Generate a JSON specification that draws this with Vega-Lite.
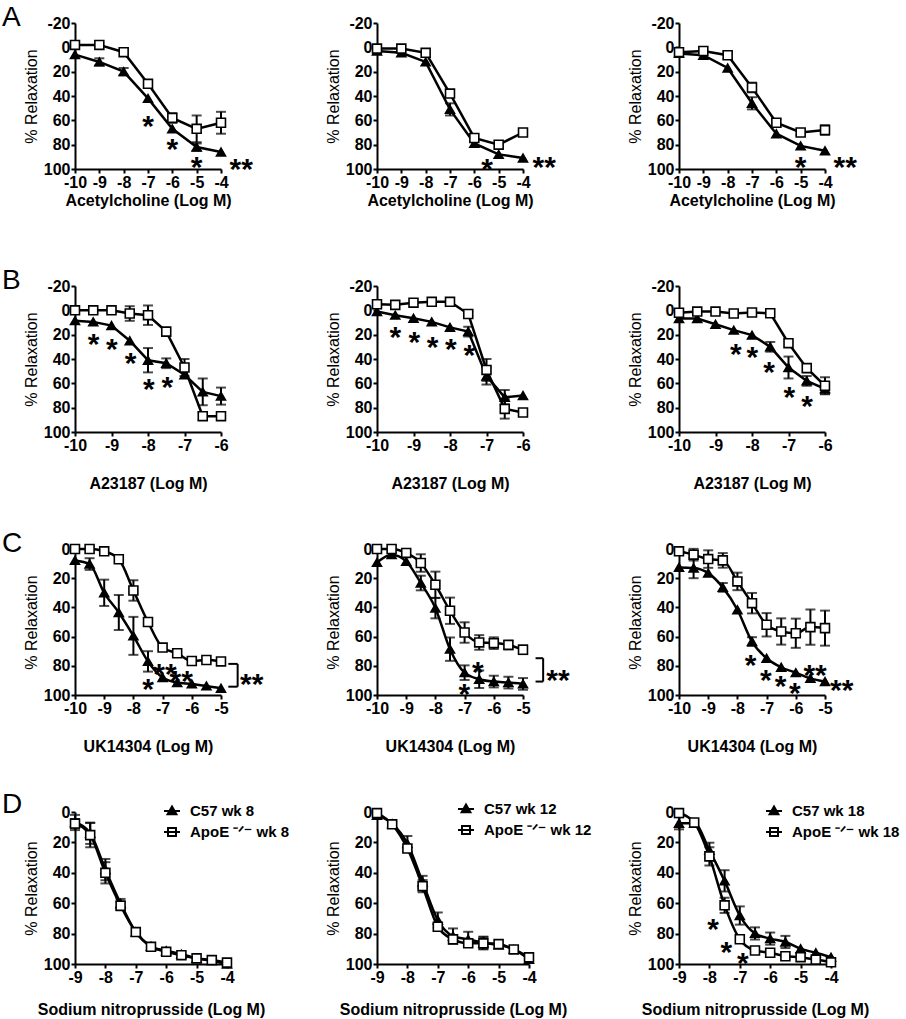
{
"$schema":"https://vega.github.io/schema/vega-lite/v6.json",
"autosize":{"type":"pad"},
"padding":{"left":2,"top":4,"right":0,"bottom":4},
"background":"white",
"datasets":{
"d":[
{"p":"A1","g":"C","x":-10,"y":6,"e":0},{"p":"A1","g":"C","x":-9,"y":12,"e":3},{"p":"A1","g":"C","x":-8,"y":20,"e":3},{"p":"A1","g":"C","x":-7,"y":42,"e":0},{"p":"A1","g":"C","x":-6,"y":67,"e":0},{"p":"A1","g":"C","x":-5,"y":82,"e":3},{"p":"A1","g":"C","x":-4,"y":86,"e":0},
{"p":"A1","g":"A","x":-10,"y":-2,"e":0},{"p":"A1","g":"A","x":-9,"y":-2,"e":0},{"p":"A1","g":"A","x":-8,"y":4,"e":0},{"p":"A1","g":"A","x":-7,"y":30,"e":3},{"p":"A1","g":"A","x":-6,"y":58,"e":4},{"p":"A1","g":"A","x":-5,"y":67,"e":11},{"p":"A1","g":"A","x":-4,"y":62,"e":9},
{"p":"A2","g":"C","x":-10,"y":3,"e":0},{"p":"A2","g":"C","x":-9,"y":4.5,"e":0},{"p":"A2","g":"C","x":-8,"y":12,"e":0},{"p":"A2","g":"C","x":-7,"y":51,"e":5},{"p":"A2","g":"C","x":-6,"y":79,"e":0},{"p":"A2","g":"C","x":-5,"y":88,"e":0},{"p":"A2","g":"C","x":-4,"y":91,"e":0},
{"p":"A2","g":"A","x":-10,"y":1,"e":0},{"p":"A2","g":"A","x":-9,"y":1,"e":0},{"p":"A2","g":"A","x":-8,"y":4.5,"e":0},{"p":"A2","g":"A","x":-7,"y":38,"e":0},{"p":"A2","g":"A","x":-6,"y":74.5,"e":0},{"p":"A2","g":"A","x":-5,"y":80,"e":0},{"p":"A2","g":"A","x":-4,"y":70,"e":0},
{"p":"A3","g":"C","x":-10,"y":5,"e":0},{"p":"A3","g":"C","x":-9,"y":6.5,"e":0},{"p":"A3","g":"C","x":-8,"y":17,"e":0},{"p":"A3","g":"C","x":-7,"y":46,"e":5},{"p":"A3","g":"C","x":-6,"y":71,"e":0},{"p":"A3","g":"C","x":-5,"y":81,"e":0},{"p":"A3","g":"C","x":-4,"y":85,"e":0},
{"p":"A3","g":"A","x":-10,"y":4,"e":0},{"p":"A3","g":"A","x":-9,"y":3,"e":0},{"p":"A3","g":"A","x":-8,"y":6.5,"e":3},{"p":"A3","g":"A","x":-7,"y":33,"e":4},{"p":"A3","g":"A","x":-6,"y":62,"e":3},{"p":"A3","g":"A","x":-5,"y":70,"e":2},{"p":"A3","g":"A","x":-4,"y":68,"e":4},
{"p":"B1","g":"C","x":-10,"y":8.5,"e":0},{"p":"B1","g":"C","x":-9.5,"y":9.5,"e":0},{"p":"B1","g":"C","x":-9,"y":12.5,"e":0},{"p":"B1","g":"C","x":-8.5,"y":25,"e":0},{"p":"B1","g":"C","x":-8,"y":41,"e":10},{"p":"B1","g":"C","x":-7.5,"y":43.5,"e":4},{"p":"B1","g":"C","x":-7,"y":53,"e":0},{"p":"B1","g":"C","x":-6.5,"y":67,"e":11},{"p":"B1","g":"C","x":-6,"y":70.5,"e":7},
{"p":"B1","g":"A","x":-10,"y":0,"e":0},{"p":"B1","g":"A","x":-9.5,"y":0,"e":0},{"p":"B1","g":"A","x":-9,"y":0,"e":2},{"p":"B1","g":"A","x":-8.5,"y":2.6,"e":6},{"p":"B1","g":"A","x":-8,"y":4,"e":8},{"p":"B1","g":"A","x":-7.5,"y":17.5,"e":0},{"p":"B1","g":"A","x":-7,"y":47,"e":7},{"p":"B1","g":"A","x":-6.5,"y":87,"e":3},{"p":"B1","g":"A","x":-6,"y":87,"e":0},
{"p":"B2","g":"C","x":-10,"y":1,"e":0},{"p":"B2","g":"C","x":-9.5,"y":4,"e":0},{"p":"B2","g":"C","x":-9,"y":6.5,"e":0},{"p":"B2","g":"C","x":-8.5,"y":9.5,"e":0},{"p":"B2","g":"C","x":-8,"y":14,"e":0},{"p":"B2","g":"C","x":-7.5,"y":17.5,"e":4},{"p":"B2","g":"C","x":-7,"y":54,"e":7},{"p":"B2","g":"C","x":-6.5,"y":71.5,"e":6},{"p":"B2","g":"C","x":-6,"y":70,"e":0},
{"p":"B2","g":"A","x":-10,"y":-5,"e":2},{"p":"B2","g":"A","x":-9.5,"y":-4.5,"e":0},{"p":"B2","g":"A","x":-9,"y":-6.3,"e":0},{"p":"B2","g":"A","x":-8.5,"y":-7,"e":0},{"p":"B2","g":"A","x":-8,"y":-7,"e":0},{"p":"B2","g":"A","x":-7.5,"y":3,"e":2},{"p":"B2","g":"A","x":-7,"y":49,"e":9},{"p":"B2","g":"A","x":-6.5,"y":81,"e":8},{"p":"B2","g":"A","x":-6,"y":84,"e":2},
{"p":"B3","g":"C","x":-10,"y":6.7,"e":0},{"p":"B3","g":"C","x":-9.5,"y":6.7,"e":0},{"p":"B3","g":"C","x":-9,"y":11.4,"e":0},{"p":"B3","g":"C","x":-8.5,"y":16.3,"e":0},{"p":"B3","g":"C","x":-8,"y":20.4,"e":0},{"p":"B3","g":"C","x":-7.5,"y":30,"e":4},{"p":"B3","g":"C","x":-7,"y":47,"e":9},{"p":"B3","g":"C","x":-6.5,"y":58,"e":4},{"p":"B3","g":"C","x":-6,"y":64.5,"e":4},
{"p":"B3","g":"A","x":-10,"y":2,"e":0},{"p":"B3","g":"A","x":-9.5,"y":1,"e":0},{"p":"B3","g":"A","x":-9,"y":1,"e":0},{"p":"B3","g":"A","x":-8.5,"y":2.6,"e":0},{"p":"B3","g":"A","x":-8,"y":1.8,"e":0},{"p":"B3","g":"A","x":-7.5,"y":2.4,"e":0},{"p":"B3","g":"A","x":-7,"y":27,"e":0},{"p":"B3","g":"A","x":-6.5,"y":47.5,"e":0},{"p":"B3","g":"A","x":-6,"y":62,"e":7},
{"p":"C1","g":"C","x":-10,"y":7.8,"e":0},{"p":"C1","g":"C","x":-9.5,"y":10.3,"e":4},{"p":"C1","g":"C","x":-9,"y":30,"e":9},{"p":"C1","g":"C","x":-8.5,"y":43.5,"e":12},{"p":"C1","g":"C","x":-8,"y":59.5,"e":13},{"p":"C1","g":"C","x":-7.5,"y":77,"e":7},{"p":"C1","g":"C","x":-7,"y":88,"e":0},{"p":"C1","g":"C","x":-6.5,"y":91.5,"e":0},{"p":"C1","g":"C","x":-6,"y":92.4,"e":0},{"p":"C1","g":"C","x":-5.5,"y":93.8,"e":0},{"p":"C1","g":"C","x":-5,"y":95.4,"e":0},
{"p":"C1","g":"A","x":-10,"y":0,"e":0},{"p":"C1","g":"A","x":-9.5,"y":0,"e":0},{"p":"C1","g":"A","x":-9,"y":1.6,"e":0},{"p":"C1","g":"A","x":-8.5,"y":7,"e":0},{"p":"C1","g":"A","x":-8,"y":28.4,"e":7},{"p":"C1","g":"A","x":-7.5,"y":50,"e":0},{"p":"C1","g":"A","x":-7,"y":67.5,"e":0},{"p":"C1","g":"A","x":-6.5,"y":71.4,"e":0},{"p":"C1","g":"A","x":-6,"y":76.7,"e":0},{"p":"C1","g":"A","x":-5.5,"y":76,"e":0},{"p":"C1","g":"A","x":-5,"y":77,"e":0},
{"p":"C2","g":"C","x":-10,"y":9.2,"e":0},{"p":"C2","g":"C","x":-9.5,"y":3.9,"e":0},{"p":"C2","g":"C","x":-9,"y":8.5,"e":0},{"p":"C2","g":"C","x":-8.5,"y":23.3,"e":5},{"p":"C2","g":"C","x":-8,"y":40.5,"e":7},{"p":"C2","g":"C","x":-7.5,"y":68.6,"e":8},{"p":"C2","g":"C","x":-7,"y":84.7,"e":5},{"p":"C2","g":"C","x":-6.5,"y":89.2,"e":6},{"p":"C2","g":"C","x":-6,"y":90.8,"e":4},{"p":"C2","g":"C","x":-5.5,"y":91.5,"e":4},{"p":"C2","g":"C","x":-5,"y":92.4,"e":4},
{"p":"C2","g":"A","x":-10,"y":0,"e":0},{"p":"C2","g":"A","x":-9.5,"y":0,"e":0},{"p":"C2","g":"A","x":-9,"y":2.7,"e":0},{"p":"C2","g":"A","x":-8.5,"y":9.6,"e":6},{"p":"C2","g":"A","x":-8,"y":24.5,"e":9},{"p":"C2","g":"A","x":-7.5,"y":42.3,"e":9},{"p":"C2","g":"A","x":-7,"y":57.2,"e":7},{"p":"C2","g":"A","x":-6.5,"y":64,"e":5},{"p":"C2","g":"A","x":-6,"y":64.5,"e":4},{"p":"C2","g":"A","x":-5.5,"y":65.7,"e":3},{"p":"C2","g":"A","x":-5,"y":69,"e":3},
{"p":"C3","g":"C","x":-10,"y":12.6,"e":0},{"p":"C3","g":"C","x":-9.5,"y":13,"e":7},{"p":"C3","g":"C","x":-9,"y":16.5,"e":0},{"p":"C3","g":"C","x":-8.5,"y":26.3,"e":3},{"p":"C3","g":"C","x":-8,"y":41.6,"e":0},{"p":"C3","g":"C","x":-7.5,"y":63.4,"e":3},{"p":"C3","g":"C","x":-7,"y":74.8,"e":0},{"p":"C3","g":"C","x":-6.5,"y":81,"e":0},{"p":"C3","g":"C","x":-6,"y":84.7,"e":0},{"p":"C3","g":"C","x":-5.5,"y":88.6,"e":0},{"p":"C3","g":"C","x":-5,"y":90.8,"e":0},
{"p":"C3","g":"A","x":-10,"y":1.6,"e":0},{"p":"C3","g":"A","x":-9.5,"y":3.9,"e":4},{"p":"C3","g":"A","x":-9,"y":6.9,"e":6},{"p":"C3","g":"A","x":-8.5,"y":7.8,"e":5},{"p":"C3","g":"A","x":-8,"y":22.2,"e":6},{"p":"C3","g":"A","x":-7.5,"y":37.1,"e":7},{"p":"C3","g":"A","x":-7,"y":51.9,"e":8},{"p":"C3","g":"A","x":-6.5,"y":56.5,"e":9},{"p":"C3","g":"A","x":-6,"y":57.7,"e":10},{"p":"C3","g":"A","x":-5.5,"y":53.5,"e":12},{"p":"C3","g":"A","x":-5,"y":54.2,"e":12},
{"p":"D1","g":"C","x":-9,"y":6.9,"e":5},{"p":"D1","g":"C","x":-8.5,"y":14,"e":7},{"p":"D1","g":"C","x":-8,"y":37.9,"e":7},{"p":"D1","g":"C","x":-7.5,"y":60.2,"e":3},{"p":"D1","g":"C","x":-7,"y":79,"e":0},{"p":"D1","g":"C","x":-6.5,"y":88.3,"e":0},{"p":"D1","g":"C","x":-6,"y":91.3,"e":0},{"p":"D1","g":"C","x":-5.5,"y":93.5,"e":0},{"p":"D1","g":"C","x":-5,"y":96.3,"e":0},{"p":"D1","g":"C","x":-4.5,"y":97.8,"e":0},{"p":"D1","g":"C","x":-4,"y":100,"e":0},
{"p":"D1","g":"A","x":-9,"y":7.6,"e":3},{"p":"D1","g":"A","x":-8.5,"y":15.2,"e":8},{"p":"D1","g":"A","x":-8,"y":40,"e":7},{"p":"D1","g":"A","x":-7.5,"y":61.7,"e":3},{"p":"D1","g":"A","x":-7,"y":79,"e":0},{"p":"D1","g":"A","x":-6.5,"y":88.7,"e":0},{"p":"D1","g":"A","x":-6,"y":92,"e":0},{"p":"D1","g":"A","x":-5.5,"y":94.2,"e":0},{"p":"D1","g":"A","x":-5,"y":96.3,"e":0},{"p":"D1","g":"A","x":-4.5,"y":97.4,"e":0},{"p":"D1","g":"A","x":-4,"y":99.1,"e":0},
{"p":"D2","g":"C","x":-9,"y":2.2,"e":0},{"p":"D2","g":"C","x":-8.5,"y":7.7,"e":0},{"p":"D2","g":"C","x":-8,"y":20.8,"e":5},{"p":"D2","g":"C","x":-7.5,"y":46,"e":4},{"p":"D2","g":"C","x":-7,"y":71.1,"e":5},{"p":"D2","g":"C","x":-6.5,"y":81.6,"e":5},{"p":"D2","g":"C","x":-6,"y":83.8,"e":5},{"p":"D2","g":"C","x":-5.5,"y":86,"e":4},{"p":"D2","g":"C","x":-5,"y":87.5,"e":0},{"p":"D2","g":"C","x":-4.5,"y":90.4,"e":0},{"p":"D2","g":"C","x":-4,"y":96.9,"e":0},
{"p":"D2","g":"A","x":-9,"y":0.7,"e":0},{"p":"D2","g":"A","x":-8.5,"y":8.1,"e":0},{"p":"D2","g":"A","x":-8,"y":24,"e":0},{"p":"D2","g":"A","x":-7.5,"y":48.8,"e":4},{"p":"D2","g":"A","x":-7,"y":75.5,"e":0},{"p":"D2","g":"A","x":-6.5,"y":83.8,"e":0},{"p":"D2","g":"A","x":-6,"y":86.4,"e":0},{"p":"D2","g":"A","x":-5.5,"y":86.4,"e":4},{"p":"D2","g":"A","x":-5,"y":86.9,"e":0},{"p":"D2","g":"A","x":-4.5,"y":90.4,"e":0},{"p":"D2","g":"A","x":-4,"y":95.6,"e":0},
{"p":"D3","g":"C","x":-9,"y":7.4,"e":4},{"p":"D3","g":"C","x":-8.5,"y":7.4,"e":0},{"p":"D3","g":"C","x":-8,"y":25.2,"e":5},{"p":"D3","g":"C","x":-7.5,"y":45.3,"e":7},{"p":"D3","g":"C","x":-7,"y":68.1,"e":6},{"p":"D3","g":"C","x":-6.5,"y":79.9,"e":4},{"p":"D3","g":"C","x":-6,"y":83.3,"e":4},{"p":"D3","g":"C","x":-5.5,"y":85.5,"e":4},{"p":"D3","g":"C","x":-5,"y":90,"e":0},{"p":"D3","g":"C","x":-4.5,"y":92.6,"e":0},{"p":"D3","g":"C","x":-4,"y":95.5,"e":0},
{"p":"D3","g":"A","x":-9,"y":0.7,"e":0},{"p":"D3","g":"A","x":-8.5,"y":6.9,"e":0},{"p":"D3","g":"A","x":-8,"y":29.2,"e":6},{"p":"D3","g":"A","x":-7.5,"y":61.4,"e":5},{"p":"D3","g":"A","x":-7,"y":83.7,"e":0},{"p":"D3","g":"A","x":-6.5,"y":91.1,"e":0},{"p":"D3","g":"A","x":-6,"y":92.6,"e":0},{"p":"D3","g":"A","x":-5.5,"y":94.9,"e":0},{"p":"D3","g":"A","x":-5,"y":95.5,"e":0},{"p":"D3","g":"A","x":-4.5,"y":97.1,"e":0},{"p":"D3","g":"A","x":-4,"y":98.9,"e":0}
],
"s":[
{"p":"A1","x":-7,"y":59,"t":"*"},{"p":"A1","x":-6,"y":78,"t":"*"},{"p":"A1","x":-5,"y":93,"t":"*"},{"p":"A1","x":-3.17,"y":94.5,"t":"**"},
{"p":"A2","x":-5.48,"y":94,"t":"*"},{"p":"A2","x":-3.13,"y":93,"t":"**"},
{"p":"A3","x":-5,"y":93,"t":"*"},{"p":"A3","x":-3.17,"y":93,"t":"**"},
{"p":"B1","x":-9.49,"y":22.3,"t":"*"},{"p":"B1","x":-8.99,"y":26.4,"t":"*"},{"p":"B1","x":-8.48,"y":37.3,"t":"*"},{"p":"B1","x":-7.98,"y":59,"t":"*"},{"p":"B1","x":-7.47,"y":57,"t":"*"},
{"p":"B2","x":-9.5,"y":16.5,"t":"*"},{"p":"B2","x":-8.98,"y":20.4,"t":"*"},{"p":"B2","x":-8.48,"y":24,"t":"*"},{"p":"B2","x":-7.98,"y":26.2,"t":"*"},{"p":"B2","x":-7.47,"y":30.8,"t":"*"},
{"p":"B3","x":-8.44,"y":30.5,"t":"*"},{"p":"B3","x":-7.99,"y":32.6,"t":"*"},{"p":"B3","x":-7.53,"y":44.9,"t":"*"},{"p":"B3","x":-6.98,"y":65.4,"t":"*"},{"p":"B3","x":-6.49,"y":72.7,"t":"*"},
{"p":"C1","x":-7.5,"y":90.8,"t":"*"},{"p":"C1","x":-6.92,"y":80.5,"t":"**"},{"p":"C1","x":-6.36,"y":85.8,"t":"**"},{"p":"C1","x":-3.95,"y":87.4,"t":"**"},
{"p":"C2","x":-6.55,"y":79.4,"t":"*"},{"p":"C2","x":-7.01,"y":94.3,"t":"*"},{"p":"C2","x":-3.8,"y":84.7,"t":"**"},
{"p":"C3","x":-7.55,"y":74.8,"t":"*"},{"p":"C3","x":-7.03,"y":85.1,"t":"*"},{"p":"C3","x":-6.52,"y":89.2,"t":"*"},{"p":"C3","x":-6.03,"y":93.8,"t":"*"},{"p":"C3","x":-5.34,"y":81.7,"t":"**"},{"p":"C3","x":-4.43,"y":91.5,"t":"**"},
{"p":"D3","x":-7.88,"y":72.1,"t":"*"},{"p":"D3","x":-7.44,"y":87.3,"t":"*"},{"p":"D3","x":-6.9,"y":94.9,"t":"*"}
],
"b":[
{"p":"C1","x":-4.75,"y":78.7,"x2":-4.43,"y2":78.7},{"p":"C1","x":-4.43,"y":78.7,"x2":-4.43,"y2":94.3},{"p":"C1","x":-4.75,"y":94.3,"x2":-4.43,"y2":94.3},
{"p":"C2","x":-4.57,"y":74.8,"x2":-4.31,"y2":74.8},{"p":"C2","x":-4.31,"y":74.8,"x2":-4.31,"y2":90.8},{"p":"C2","x":-4.57,"y":90.8,"x2":-4.31,"y2":90.8}
]
},
"columns":3,
"bounds":"flush",
"spacing":{"row":117,"column":150},
"resolve":{"scale":{"shape":"independent","fill":"independent"},"legend":{"shape":"independent","fill":"independent"}},
"concat":[
{"width":146,"height":146,"title":{"text":"A"},"data":{"name":"d"},"transform":[{"filter":"datum.p=='A1'"}],
"encoding":{"x":{"field":"x","type":"quantitative","scale":{"domain":[-10,-4],"nice":false,"zero":false},"axis":{"values":[-10,-9,-8,-7,-6,-5,-4],"title":"Acetylcholine (Log M)","titlePadding":2}},
"y":{"field":"y","type":"quantitative","scale":{"domain":[-20,100],"reverse":true,"nice":false,"zero":false},"axis":{"values":[-20,0,20,40,60,80,100],"title":"% Relaxation"}}},
"layer":[
{"mark":{"type":"line","color":"black","strokeWidth":2.5},"encoding":{"detail":{"field":"g"}}},
{"transform":[{"filter":"datum.e>0"}],"mark":{"type":"errorbar","ticks":{"size":10},"color":"black","thickness":2},"encoding":{"yError":{"field":"e"}}},
{"mark":{"type":"point","filled":true,"size":80,"stroke":"black","strokeWidth":1.6,"opacity":1},"encoding":{"shape":{"field":"g","type":"nominal","scale":{"domain":["C","A"],"range":["triangle-up","square"]},"legend":null},"fill":{"field":"g","type":"nominal","scale":{"domain":["C","A"],"range":["black","white"]},"legend":null}}},
{"data":{"name":"s"},"transform":[{"filter":"datum.p=='A1'"}],"mark":{"type":"text","fontSize":30,"fontWeight":"bold","dy":8,"color":"black"},"encoding":{"text":{"field":"t"}}}
]},
{"width":146,"height":146,"data":{"name":"d"},"transform":[{"filter":"datum.p=='A2'"}],
"encoding":{"x":{"field":"x","type":"quantitative","scale":{"domain":[-10,-4],"nice":false,"zero":false},"axis":{"values":[-10,-9,-8,-7,-6,-5,-4],"title":"Acetylcholine (Log M)","titlePadding":2}},
"y":{"field":"y","type":"quantitative","scale":{"domain":[-20,100],"reverse":true,"nice":false,"zero":false},"axis":{"values":[-20,0,20,40,60,80,100],"title":"% Relaxation"}}},
"layer":[
{"mark":{"type":"line","color":"black","strokeWidth":2.5},"encoding":{"detail":{"field":"g"}}},
{"transform":[{"filter":"datum.e>0"}],"mark":{"type":"errorbar","ticks":{"size":10},"color":"black","thickness":2},"encoding":{"yError":{"field":"e"}}},
{"mark":{"type":"point","filled":true,"size":80,"stroke":"black","strokeWidth":1.6,"opacity":1},"encoding":{"shape":{"field":"g","type":"nominal","scale":{"domain":["C","A"],"range":["triangle-up","square"]},"legend":null},"fill":{"field":"g","type":"nominal","scale":{"domain":["C","A"],"range":["black","white"]},"legend":null}}},
{"data":{"name":"s"},"transform":[{"filter":"datum.p=='A2'"}],"mark":{"type":"text","fontSize":30,"fontWeight":"bold","dy":8,"color":"black"},"encoding":{"text":{"field":"t"}}}
]},
{"width":146,"height":146,"data":{"name":"d"},"transform":[{"filter":"datum.p=='A3'"}],
"encoding":{"x":{"field":"x","type":"quantitative","scale":{"domain":[-10,-4],"nice":false,"zero":false},"axis":{"values":[-10,-9,-8,-7,-6,-5,-4],"title":"Acetylcholine (Log M)","titlePadding":2}},
"y":{"field":"y","type":"quantitative","scale":{"domain":[-20,100],"reverse":true,"nice":false,"zero":false},"axis":{"values":[-20,0,20,40,60,80,100],"title":"% Relaxation"}}},
"layer":[
{"mark":{"type":"line","color":"black","strokeWidth":2.5},"encoding":{"detail":{"field":"g"}}},
{"transform":[{"filter":"datum.e>0"}],"mark":{"type":"errorbar","ticks":{"size":10},"color":"black","thickness":2},"encoding":{"yError":{"field":"e"}}},
{"mark":{"type":"point","filled":true,"size":80,"stroke":"black","strokeWidth":1.6,"opacity":1},"encoding":{"shape":{"field":"g","type":"nominal","scale":{"domain":["C","A"],"range":["triangle-up","square"]},"legend":null},"fill":{"field":"g","type":"nominal","scale":{"domain":["C","A"],"range":["black","white"]},"legend":null}}},
{"data":{"name":"s"},"transform":[{"filter":"datum.p=='A3'"}],"mark":{"type":"text","fontSize":30,"fontWeight":"bold","dy":8,"color":"black"},"encoding":{"text":{"field":"t"}}}
]},
{"width":146,"height":146,"title":{"text":"B"},"data":{"name":"d"},"transform":[{"filter":"datum.p=='B1'"}],
"encoding":{"x":{"field":"x","type":"quantitative","scale":{"domain":[-10,-6],"nice":false,"zero":false},"axis":{"values":[-10,-9,-8,-7,-6],"title":"A23187 (Log M)","titlePadding":22}},
"y":{"field":"y","type":"quantitative","scale":{"domain":[-20,100],"reverse":true,"nice":false,"zero":false},"axis":{"values":[-20,0,20,40,60,80,100],"title":"% Relaxation"}}},
"layer":[
{"mark":{"type":"line","color":"black","strokeWidth":2.5},"encoding":{"detail":{"field":"g"}}},
{"transform":[{"filter":"datum.e>0"}],"mark":{"type":"errorbar","ticks":{"size":10},"color":"black","thickness":2},"encoding":{"yError":{"field":"e"}}},
{"mark":{"type":"point","filled":true,"size":80,"stroke":"black","strokeWidth":1.6,"opacity":1},"encoding":{"shape":{"field":"g","type":"nominal","scale":{"domain":["C","A"],"range":["triangle-up","square"]},"legend":null},"fill":{"field":"g","type":"nominal","scale":{"domain":["C","A"],"range":["black","white"]},"legend":null}}},
{"data":{"name":"s"},"transform":[{"filter":"datum.p=='B1'"}],"mark":{"type":"text","fontSize":30,"fontWeight":"bold","dy":8,"color":"black"},"encoding":{"text":{"field":"t"}}}
]},
{"width":146,"height":146,"data":{"name":"d"},"transform":[{"filter":"datum.p=='B2'"}],
"encoding":{"x":{"field":"x","type":"quantitative","scale":{"domain":[-10,-6],"nice":false,"zero":false},"axis":{"values":[-10,-9,-8,-7,-6],"title":"A23187 (Log M)","titlePadding":22}},
"y":{"field":"y","type":"quantitative","scale":{"domain":[-20,100],"reverse":true,"nice":false,"zero":false},"axis":{"values":[-20,0,20,40,60,80,100],"title":"% Relaxation"}}},
"layer":[
{"mark":{"type":"line","color":"black","strokeWidth":2.5},"encoding":{"detail":{"field":"g"}}},
{"transform":[{"filter":"datum.e>0"}],"mark":{"type":"errorbar","ticks":{"size":10},"color":"black","thickness":2},"encoding":{"yError":{"field":"e"}}},
{"mark":{"type":"point","filled":true,"size":80,"stroke":"black","strokeWidth":1.6,"opacity":1},"encoding":{"shape":{"field":"g","type":"nominal","scale":{"domain":["C","A"],"range":["triangle-up","square"]},"legend":null},"fill":{"field":"g","type":"nominal","scale":{"domain":["C","A"],"range":["black","white"]},"legend":null}}},
{"data":{"name":"s"},"transform":[{"filter":"datum.p=='B2'"}],"mark":{"type":"text","fontSize":30,"fontWeight":"bold","dy":8,"color":"black"},"encoding":{"text":{"field":"t"}}}
]},
{"width":146,"height":146,"data":{"name":"d"},"transform":[{"filter":"datum.p=='B3'"}],
"encoding":{"x":{"field":"x","type":"quantitative","scale":{"domain":[-10,-6],"nice":false,"zero":false},"axis":{"values":[-10,-9,-8,-7,-6],"title":"A23187 (Log M)","titlePadding":22}},
"y":{"field":"y","type":"quantitative","scale":{"domain":[-20,100],"reverse":true,"nice":false,"zero":false},"axis":{"values":[-20,0,20,40,60,80,100],"title":"% Relaxation"}}},
"layer":[
{"mark":{"type":"line","color":"black","strokeWidth":2.5},"encoding":{"detail":{"field":"g"}}},
{"transform":[{"filter":"datum.e>0"}],"mark":{"type":"errorbar","ticks":{"size":10},"color":"black","thickness":2},"encoding":{"yError":{"field":"e"}}},
{"mark":{"type":"point","filled":true,"size":80,"stroke":"black","strokeWidth":1.6,"opacity":1},"encoding":{"shape":{"field":"g","type":"nominal","scale":{"domain":["C","A"],"range":["triangle-up","square"]},"legend":null},"fill":{"field":"g","type":"nominal","scale":{"domain":["C","A"],"range":["black","white"]},"legend":null}}},
{"data":{"name":"s"},"transform":[{"filter":"datum.p=='B3'"}],"mark":{"type":"text","fontSize":30,"fontWeight":"bold","dy":8,"color":"black"},"encoding":{"text":{"field":"t"}}}
]},
{"width":146,"height":146,"title":{"text":"C"},"data":{"name":"d"},"transform":[{"filter":"datum.p=='C1'"}],
"encoding":{"x":{"field":"x","type":"quantitative","scale":{"domain":[-10,-5],"nice":false,"zero":false},"axis":{"values":[-10,-9,-8,-7,-6,-5],"title":"UK14304 (Log M)","titlePadding":22}},
"y":{"field":"y","type":"quantitative","scale":{"domain":[0,100],"reverse":true,"nice":false,"zero":false},"axis":{"values":[0,20,40,60,80,100],"title":"% Relaxation"}}},
"layer":[
{"mark":{"type":"line","color":"black","strokeWidth":2.5,"interpolate":"monotone"},"encoding":{"detail":{"field":"g"}}},
{"transform":[{"filter":"datum.e>0"}],"mark":{"type":"errorbar","ticks":{"size":10},"color":"black","thickness":2},"encoding":{"yError":{"field":"e"}}},
{"mark":{"type":"point","filled":true,"size":80,"stroke":"black","strokeWidth":1.6,"opacity":1},"encoding":{"shape":{"field":"g","type":"nominal","scale":{"domain":["C","A"],"range":["triangle-up","square"]},"legend":null},"fill":{"field":"g","type":"nominal","scale":{"domain":["C","A"],"range":["black","white"]},"legend":null}}},
{"data":{"name":"b"},"transform":[{"filter":"datum.p=='C1'"}],"mark":{"type":"rule","color":"black","strokeWidth":2},"encoding":{"x2":{"field":"x2"},"y2":{"field":"y2"}}},
{"data":{"name":"s"},"transform":[{"filter":"datum.p=='C1'"}],"mark":{"type":"text","fontSize":30,"fontWeight":"bold","dy":8,"color":"black"},"encoding":{"text":{"field":"t"}}}
]},
{"width":146,"height":146,"data":{"name":"d"},"transform":[{"filter":"datum.p=='C2'"}],
"encoding":{"x":{"field":"x","type":"quantitative","scale":{"domain":[-10,-5],"nice":false,"zero":false},"axis":{"values":[-10,-9,-8,-7,-6,-5],"title":"UK14304 (Log M)","titlePadding":22}},
"y":{"field":"y","type":"quantitative","scale":{"domain":[0,100],"reverse":true,"nice":false,"zero":false},"axis":{"values":[0,20,40,60,80,100],"title":"% Relaxation"}}},
"layer":[
{"mark":{"type":"line","color":"black","strokeWidth":2.5,"interpolate":"monotone"},"encoding":{"detail":{"field":"g"}}},
{"transform":[{"filter":"datum.e>0"}],"mark":{"type":"errorbar","ticks":{"size":10},"color":"black","thickness":2},"encoding":{"yError":{"field":"e"}}},
{"mark":{"type":"point","filled":true,"size":80,"stroke":"black","strokeWidth":1.6,"opacity":1},"encoding":{"shape":{"field":"g","type":"nominal","scale":{"domain":["C","A"],"range":["triangle-up","square"]},"legend":null},"fill":{"field":"g","type":"nominal","scale":{"domain":["C","A"],"range":["black","white"]},"legend":null}}},
{"data":{"name":"b"},"transform":[{"filter":"datum.p=='C2'"}],"mark":{"type":"rule","color":"black","strokeWidth":2},"encoding":{"x2":{"field":"x2"},"y2":{"field":"y2"}}},
{"data":{"name":"s"},"transform":[{"filter":"datum.p=='C2'"}],"mark":{"type":"text","fontSize":30,"fontWeight":"bold","dy":8,"color":"black"},"encoding":{"text":{"field":"t"}}}
]},
{"width":146,"height":146,"data":{"name":"d"},"transform":[{"filter":"datum.p=='C3'"}],
"encoding":{"x":{"field":"x","type":"quantitative","scale":{"domain":[-10,-5],"nice":false,"zero":false},"axis":{"values":[-10,-9,-8,-7,-6,-5],"title":"UK14304 (Log M)","titlePadding":22}},
"y":{"field":"y","type":"quantitative","scale":{"domain":[0,100],"reverse":true,"nice":false,"zero":false},"axis":{"values":[0,20,40,60,80,100],"title":"% Relaxation"}}},
"layer":[
{"mark":{"type":"line","color":"black","strokeWidth":2.5,"interpolate":"monotone"},"encoding":{"detail":{"field":"g"}}},
{"transform":[{"filter":"datum.e>0"}],"mark":{"type":"errorbar","ticks":{"size":10},"color":"black","thickness":2},"encoding":{"yError":{"field":"e"}}},
{"mark":{"type":"point","filled":true,"size":80,"stroke":"black","strokeWidth":1.6,"opacity":1},"encoding":{"shape":{"field":"g","type":"nominal","scale":{"domain":["C","A"],"range":["triangle-up","square"]},"legend":null},"fill":{"field":"g","type":"nominal","scale":{"domain":["C","A"],"range":["black","white"]},"legend":null}}},
{"data":{"name":"s"},"transform":[{"filter":"datum.p=='C3'"}],"mark":{"type":"text","fontSize":30,"fontWeight":"bold","dy":8,"color":"black"},"encoding":{"text":{"field":"t"}}}
]},
{"width":152,"height":152,"title":{"text":"D"},"data":{"name":"d"},"transform":[{"filter":"datum.p=='D1'"}],
"encoding":{"x":{"field":"x","type":"quantitative","scale":{"domain":[-9,-4],"nice":false,"zero":false},"axis":{"values":[-9,-8,-7,-6,-5,-4],"title":"Sodium nitroprusside (Log M)","titlePadding":16}},
"y":{"field":"y","type":"quantitative","scale":{"domain":[0,100],"reverse":true,"nice":false,"zero":false},"axis":{"values":[0,20,40,60,80,100],"title":"% Relaxation"}}},
"layer":[
{"mark":{"type":"line","color":"black","strokeWidth":2.5,"interpolate":"monotone"},"encoding":{"detail":{"field":"g"}}},
{"transform":[{"filter":"datum.e>0"}],"mark":{"type":"errorbar","ticks":{"size":10},"color":"black","thickness":2},"encoding":{"yError":{"field":"e"}}},
{"mark":{"type":"point","filled":true,"size":80,"stroke":"black","strokeWidth":1.6,"opacity":1},"encoding":{"shape":{"field":"g","type":"nominal","scale":{"domain":["A","C"],"range":["square","triangle-up"]},"legend":null},"fill":{"field":"g","type":"nominal","scale":{"domain":["C","A"],"range":["black","white"]},"legend":{"orient":"none","legendX":88,"legendY":-10,"symbolSize":256,"labelExpr":"datum.value=='C' ? 'C57 wk 8' : 'ApoE ⁻ᐟ⁻ wk 8'","encoding":{"symbols":{"shape":{"value":{"expr":"datum.value=='C' ? 'M-1,0H1M0,-0.55L0.55,0.4H-0.55Z' : 'M-1,0H1M-0.5,-0.5H0.5V0.5H-0.5Z'"}},"size":{"value":256},"stroke":{"value":"black"},"strokeWidth":{"value":2},"opacity":{"value":1}}}}}}}
]},
{"width":152,"height":152,"data":{"name":"d"},"transform":[{"filter":"datum.p=='D2'"}],
"encoding":{"x":{"field":"x","type":"quantitative","scale":{"domain":[-9,-4],"nice":false,"zero":false},"axis":{"values":[-9,-8,-7,-6,-5,-4],"title":"Sodium nitroprusside (Log M)","titlePadding":16}},
"y":{"field":"y","type":"quantitative","scale":{"domain":[0,100],"reverse":true,"nice":false,"zero":false},"axis":{"values":[0,20,40,60,80,100],"title":"% Relaxation"}}},
"layer":[
{"mark":{"type":"line","color":"black","strokeWidth":2.5,"interpolate":"monotone"},"encoding":{"detail":{"field":"g"}}},
{"transform":[{"filter":"datum.e>0"}],"mark":{"type":"errorbar","ticks":{"size":10},"color":"black","thickness":2},"encoding":{"yError":{"field":"e"}}},
{"mark":{"type":"point","filled":true,"size":80,"stroke":"black","strokeWidth":1.6,"opacity":1},"encoding":{"shape":{"field":"g","type":"nominal","scale":{"domain":["A","C"],"range":["square","triangle-up"]},"legend":null},"fill":{"field":"g","type":"nominal","scale":{"domain":["C","A"],"range":["black","white"]},"legend":{"orient":"none","legendX":80,"legendY":-12,"symbolSize":256,"labelExpr":"datum.value=='C' ? 'C57 wk 12' : 'ApoE ⁻ᐟ⁻ wk 12'","encoding":{"symbols":{"shape":{"value":{"expr":"datum.value=='C' ? 'M-1,0H1M0,-0.55L0.55,0.4H-0.55Z' : 'M-1,0H1M-0.5,-0.5H0.5V0.5H-0.5Z'"}},"size":{"value":256},"stroke":{"value":"black"},"strokeWidth":{"value":2},"opacity":{"value":1}}}}}}}
]},
{"width":152,"height":152,"data":{"name":"d"},"transform":[{"filter":"datum.p=='D3'"}],
"encoding":{"x":{"field":"x","type":"quantitative","scale":{"domain":[-9,-4],"nice":false,"zero":false},"axis":{"values":[-9,-8,-7,-6,-5,-4],"title":"Sodium nitroprusside (Log M)","titlePadding":16}},
"y":{"field":"y","type":"quantitative","scale":{"domain":[0,100],"reverse":true,"nice":false,"zero":false},"axis":{"values":[0,20,40,60,80,100],"title":"% Relaxation"}}},
"layer":[
{"mark":{"type":"line","color":"black","strokeWidth":2.5,"interpolate":"monotone"},"encoding":{"detail":{"field":"g"}}},
{"transform":[{"filter":"datum.e>0"}],"mark":{"type":"errorbar","ticks":{"size":10},"color":"black","thickness":2},"encoding":{"yError":{"field":"e"}}},
{"mark":{"type":"point","filled":true,"size":80,"stroke":"black","strokeWidth":1.6,"opacity":1},"encoding":{"shape":{"field":"g","type":"nominal","scale":{"domain":["A","C"],"range":["square","triangle-up"]},"legend":null},"fill":{"field":"g","type":"nominal","scale":{"domain":["C","A"],"range":["black","white"]},"legend":{"orient":"none","legendX":86,"legendY":-10,"symbolSize":256,"labelExpr":"datum.value=='C' ? 'C57 wk 18' : 'ApoE ⁻ᐟ⁻ wk 18'","encoding":{"symbols":{"shape":{"value":{"expr":"datum.value=='C' ? 'M-1,0H1M0,-0.55L0.55,0.4H-0.55Z' : 'M-1,0H1M-0.5,-0.5H0.5V0.5H-0.5Z'"}},"size":{"value":256},"stroke":{"value":"black"},"strokeWidth":{"value":2},"opacity":{"value":1}}}}}}},
{"data":{"name":"s"},"transform":[{"filter":"datum.p=='D3'"}],"mark":{"type":"text","fontSize":30,"fontWeight":"bold","dy":8,"color":"black"},"encoding":{"text":{"field":"t"}}}
]}
],
"config":{
"font":"Liberation Sans",
"view":{"stroke":null},
"axis":{"domainColor":"black","domainWidth":2,"tickColor":"black","tickWidth":2,"tickSize":4,"labelFont":"Liberation Sans","labelFontWeight":"bold","labelFontSize":16,"labelColor":"black","labelPadding":1,"labelFlush":false,"labelOverlap":false,"labelExpr":"'' + datum.value","grid":false,"titleFont":"Liberation Sans","titleColor":"black"},
"axisX":{"titleFontWeight":"bold","titleFontSize":16},
"axisY":{"titleFontWeight":"normal","titleFontSize":16,"titlePadding":4},
"legend":{"title":null,"symbolSize":256,"symbolStrokeWidth":2,"symbolStrokeColor":"black","labelFont":"Liberation Sans","labelFontSize":15,"labelFontWeight":"bold","labelColor":"black","labelOffset":9,"rowPadding":4},
"title":{"font":"Liberation Sans","fontSize":28,"fontWeight":"normal","color":"black","anchor":"start","frame":"group","offset":0,"dx":-73,"dy":21}
}
}
